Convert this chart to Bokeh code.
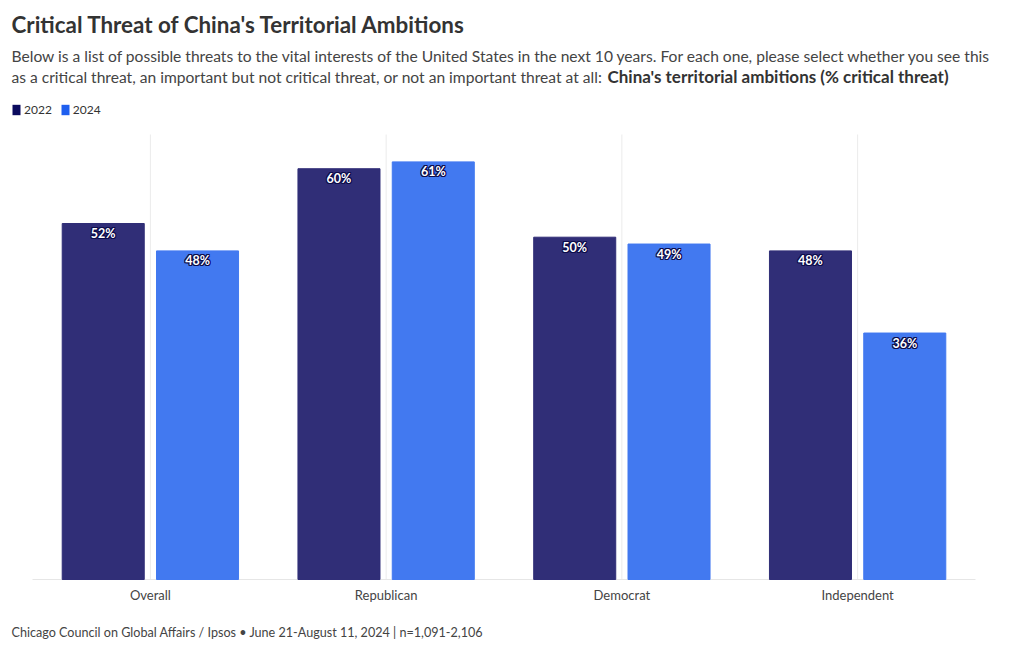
from bokeh.plotting import figure
from bokeh.models import ColumnDataSource, Range1d, Label, Legend, LegendItem
from bokeh.core.properties import value
from bokeh.embed import file_html
from bokeh.resources import INLINE

categories = ["Overall", "Republican", "Democrat", "Independent"]
values_2022 = [52, 60, 50, 48]
values_2024 = [48, 61, 49, 36]
labels_2022 = [f"{v}%" for v in values_2022]
labels_2024 = [f"{v}%" for v in values_2024]
series_names = ["2022", "2024"]

FONT = "Lato"
C2022 = "#302e77"
C2024 = "#4279f0"

# layout (page pixels)
W, H = 1012, 642
PLOT_L, PLOT_R, PLOT_T, PLOT_B = 32, 975, 134, 579
YMAX = 65
n = len(categories)
ppx = (PLOT_R - PLOT_L) / n
ppy = (PLOT_B - PLOT_T) / YMAX

centers = [i + 0.5 for i in range(n)]
src = ColumnDataSource(dict(cat=categories, xc=centers,
                            x22=[c - 0.2 for c in centers], x24=[c + 0.2 for c in centers],
                            v22=values_2022, v24=values_2024,
                            l22=labels_2022, l24=labels_2024,
                            zero=[0] * n, top=[YMAX] * n))

p = figure(width=W, height=H,
           x_range=Range1d(-PLOT_L / ppx, n + (W - PLOT_R) / ppx),
           y_range=Range1d(-(H - PLOT_B) / ppy, YMAX + PLOT_T / ppy),
           output_backend="svg", toolbar_location=None,
           min_border=0)
p.outline_line_color = None
p.axis.visible = False
p.grid.grid_line_color = None

# grid lines and baseline
p.segment(x0="xc", y0="zero", x1="xc", y1="top", source=src, line_color="#ebebeb", line_width=1)
p.segment(x0=[0], y0=[0], x1=[n], y1=[0], line_color="#e6e6e6", line_width=1)

p.vbar(x="x22", top="v22", width=0.348, source=src, fill_color=C2022, line_color=C2022)
p.vbar(x="x24", top="v24", width=0.348, source=src, fill_color=C2024, line_color=C2024)

for xcol, col, lab in (("x22", "v22", "l22"), ("x24", "v24", "l24")):
    for dx, dy in ((-1, 0), (1, 0), (0, -1), (0, 1), (-1, -1), (1, 1), (-1, 1), (1, -1)):
        p.text(x=xcol, y=col, text=lab, source=src, x_offset=dx, y_offset=10 + dy,
               text_align="center", text_baseline="middle",
               text_font=value(FONT), text_font_style="bold", text_font_size="12.5px",
               text_color="#0c0c4a")
    p.text(x=xcol, y=col, text=lab, source=src, y_offset=10,
           text_align="center", text_baseline="middle",
           text_font=value(FONT), text_font_style="bold", text_font_size="12.5px",
           text_color="white")

# category labels
p.text(x="xc", y="zero", text="cat", source=src, y_offset=15,
       text_align="center", text_baseline="middle",
       text_font=value(FONT), text_font_size="13px", text_color="#444444")

def lab(text, x_page, y_page, size, style="normal", color="#333333"):
    p.add_layout(Label(x=x_page, y=H - y_page, x_units="screen", y_units="screen",
                       text=text, text_font=FONT, text_font_size=size, text_font_style=style,
                       text_color=color, text_baseline="middle", text_align="left"))

lab("Critical Threat of China's Territorial Ambitions", 11, 24, "22.4px", "bold", "#333333")
lab("Below is a list of possible threats to the vital interests of the United States in the next 10 years. "
    "For each one, please select whether you see this", 11, 55, "15.6px", "normal", "#444444")
lab("as a critical threat, an important but not critical threat, or not an important threat at all: ",
    11, 76, "15.6px", "normal", "#444444")
lab("China's territorial ambitions (% critical threat)", 607, 76, "17px", "bold", "#333333")
lab("Chicago Council on Global Affairs / Ipsos \u2022 June 21-August 11, 2024 | n=1,091-2,106",
    11, 632, "12.6px", "normal", "#444444")

# legend (zero-height dummy renderers carry swatch colours)
d22 = p.vbar(x=[0.5], top=[0], bottom=[0], width=0.01, fill_color="#0b0b5e", line_color=None)
d24 = p.vbar(x=[0.5], top=[0], bottom=[0], width=0.01, fill_color="#1f5fef", line_color=None)
legend = Legend(items=[LegendItem(label=series_names[0], renderers=[d22]),
                       LegendItem(label=series_names[1], renderers=[d24])],
                location=(11, H - 117), orientation="horizontal",
                glyph_width=10, glyph_height=13, label_text_font=FONT,
                label_text_font_size="12px", label_text_color="#333333",
                padding=0, margin=0, spacing=8, label_standoff=3, label_height=13,
                border_line_color=None, background_fill_alpha=0)
p.add_layout(legend, "center")

open("out.html", "w").write(file_html(p, INLINE))
